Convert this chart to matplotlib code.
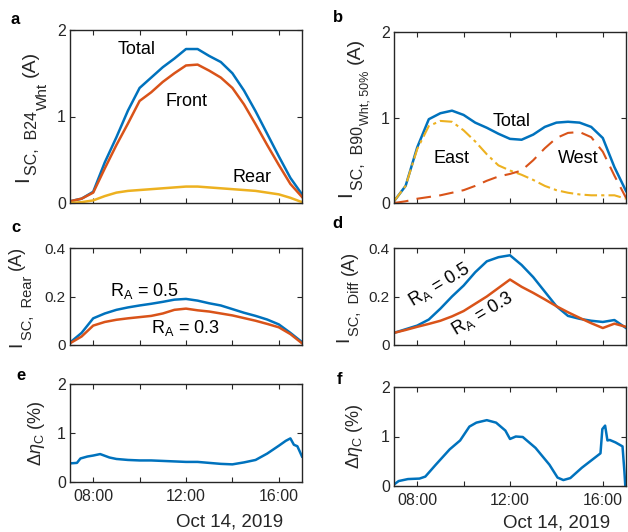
import matplotlib.pyplot as plt

plt.rcParams['font.family'] = ['Liberation Sans', 'DejaVu Sans']
plt.rcParams['mathtext.fontset'] = 'custom'
plt.rcParams['mathtext.rm'] = 'Liberation Sans'
plt.rcParams['mathtext.it'] = 'Liberation Sans:italic'
plt.rcParams['mathtext.bf'] = 'Liberation Sans:bold'

BLUE = '#0072BD'
ORANGE = '#D95319'
YELLOW = '#EDB120'
DARK = '#262626'

# time of day (hours), half-hour steps
hours = [7.0, 7.5, 8.0, 8.5, 9.0, 9.5, 10.0, 10.5, 11.0, 11.5, 12.0,
         12.5, 13.0, 13.5, 14.0, 14.5, 15.0, 15.5, 16.0, 16.5, 17.0]

# a: B24 bifacial module (A)
a_total = [0.02, 0.05, 0.13, 0.47, 0.76, 1.07, 1.33, 1.45, 1.57, 1.67, 1.78,
           1.78, 1.70, 1.63, 1.50, 1.30, 1.06, 0.80, 0.54, 0.29, 0.10]
a_front = [0.02, 0.05, 0.12, 0.40, 0.67, 0.92, 1.18, 1.28, 1.40, 1.50, 1.59,
           1.60, 1.53, 1.45, 1.33, 1.14, 0.91, 0.67, 0.44, 0.22, 0.07]
a_rear = [0.00, 0.01, 0.03, 0.08, 0.12, 0.14, 0.15, 0.16, 0.17, 0.18, 0.19,
          0.19, 0.18, 0.17, 0.16, 0.15, 0.14, 0.12, 0.10, 0.06, 0.01]

# b: B90 vertical module (A)
b_total = [0.02, 0.20, 0.65, 0.98, 1.05, 1.08, 1.03, 0.94, 0.88, 0.81, 0.75,
           0.74, 0.80, 0.89, 0.94, 0.95, 0.94, 0.89, 0.76, 0.42, 0.14]
b_east = [0.02, 0.20, 0.63, 0.90, 0.96, 0.95, 0.85, 0.72, 0.57, 0.44, 0.38,
          0.33, 0.27, 0.20, 0.15, 0.12, 0.10, 0.09, 0.09, 0.09, 0.05]
b_west = [0.00, 0.02, 0.05, 0.07, 0.09, 0.12, 0.15, 0.20, 0.26, 0.31, 0.34,
          0.38, 0.50, 0.64, 0.76, 0.82, 0.83, 0.77, 0.60, 0.32, 0.06]

# c: rear current for two albedos (A)
c_ra05 = [0.010, 0.050, 0.110, 0.130, 0.145, 0.155, 0.163, 0.170, 0.178, 0.187, 0.190,
          0.183, 0.172, 0.163, 0.148, 0.133, 0.120, 0.105, 0.085, 0.050, 0.012]
c_ra03 = [0.007, 0.035, 0.080, 0.095, 0.104, 0.110, 0.115, 0.120, 0.130, 0.145, 0.150,
          0.143, 0.138, 0.130, 0.122, 0.111, 0.100, 0.087, 0.073, 0.045, 0.007]

# d: difference current (A)
d_ra05 = [0.050, 0.065, 0.080, 0.105, 0.150, 0.200, 0.245, 0.300, 0.345, 0.362, 0.370,
          0.330, 0.280, 0.220, 0.160, 0.120, 0.108, 0.100, 0.095, 0.103, 0.070]
d_ra03 = [0.050, 0.062, 0.075, 0.087, 0.100, 0.118, 0.140, 0.170, 0.200, 0.235, 0.270,
          0.240, 0.215, 0.188, 0.160, 0.135, 0.112, 0.090, 0.070, 0.088, 0.075]

# e, f: efficiency gain (%)
e_hours = [7.0, 7.3, 7.45, 7.75, 8.0, 8.3, 8.7, 9.0, 9.5, 10.0, 10.5, 11.0, 11.5,
           12.0, 12.5, 13.0, 13.5, 14.0, 14.5, 15.0, 15.5, 16.0, 16.3, 16.5,
           16.65, 16.8, 17.0]
e_gain = [0.38, 0.39, 0.48, 0.52, 0.54, 0.57, 0.50, 0.47, 0.45, 0.44, 0.44, 0.43, 0.42,
          0.41, 0.41, 0.39, 0.37, 0.36, 0.40, 0.45, 0.58, 0.74, 0.84, 0.89,
          0.76, 0.73, 0.52]
f_hours = [7.0, 7.2, 7.6, 8.1, 8.35, 8.8, 9.4, 9.85, 10.25, 10.55, 11.0, 11.4, 11.8,
           12.0, 12.25, 12.55, 13.1, 13.7, 14.05, 14.3, 14.6, 15.1, 15.9, 15.98,
           16.1, 16.2, 16.3, 16.55, 16.85, 16.93, 16.97]
f_gain = [0.03, 0.10, 0.14, 0.15, 0.19, 0.43, 0.74, 0.92, 1.20, 1.28, 1.33, 1.28, 1.12,
          0.95, 1.00, 0.99, 0.77, 0.43, 0.17, 0.12, 0.16, 0.37, 0.66, 1.15,
          1.22, 0.92, 0.93, 0.88, 0.80, 0.30, 0.00]

tick_hours = [8, 10, 12, 14, 16]
tick_labels = ['08:00', '', '12:00', '', '16:00']
date_label = 'Oct 14, 2019'

FW, FH = 628, 532
fig = plt.figure(figsize=(FW / 100, FH / 100), dpi=100)
renderer = fig.canvas.get_renderer()


def make_ax(rect, ylim, yticks, yticklabels, tsize, show_x=False):
    ax = fig.add_axes(rect)
    ax.set_xlim(7.0, 17.0)
    ax.set_ylim(*ylim)
    ax.set_yticks(yticks)
    ax.set_yticklabels(yticklabels)
    ax.set_xticks(tick_hours)
    if show_x:
        ax.set_xticklabels(tick_labels)
    else:
        ax.set_xticklabels([])
    ax.tick_params(direction='in', top=True, right=True, length=3.5, width=0.8,
                   labelsize=tsize, colors=DARK, pad=3)
    ax.tick_params(axis='x', pad=5)
    for s in ax.spines.values():
        s.set_linewidth(1.0)
        s.set_color(DARK)
    return ax


def piece_label(ax, x_px, pieces):
    # vertical label made of pieces (text, size, baseline shift px, gap px),
    # read bottom to top and centred on the axes
    items = []
    for s, size, shift, gap in pieces:
        t = fig.text(0, 0, s, fontsize=size, rotation=90, rotation_mode='anchor',
                     ha='left', va='baseline', color=DARK)
        items.append((t, shift, gap, t.get_window_extent(renderer).height))
    box = ax.get_position()
    total = sum(h + g for _, _, g, h in items)
    y = (box.y0 + box.y1) / 2 * FH - total / 2
    for t, shift, gap, h in items:
        y += gap
        t.set_position(((x_px + shift) / FW, y / FH))
        y += h


W = 232 / FW
# panel a
ax = make_ax([70/FW, 1-203/FH, W, 173/FH], (0, 2), [0, 1, 2], ['0', '1', '2'], 11.5)
piece_label(ax, 28, [('I', 15, 0, 0), ('SC,  B24', 11.5, 9, 1),
                     ('Wht', 11, 19, 1), ('(A)', 14, 7, 6)])
ax.plot(hours, a_total, color=BLUE, lw=1.8)
ax.plot(hours, a_front, color=ORANGE, lw=1.8)
ax.plot(hours, a_rear, color=YELLOW, lw=1.8)
ax.text(9.88, 1.77, 'Total', fontsize=13, ha='center', va='center')
ax.text(12.04, 1.17, 'Front', fontsize=13, ha='center', va='center')
ax.text(14.84, 0.30, 'Rear', fontsize=13, ha='center', va='center')

# panel b
ax = make_ax([394/FW, 1-203/FH, W, 171/FH], (0, 2), [0, 1, 2], ['0', '1', '2'], 11.5)
piece_label(ax, 351, [('I', 15, 0, 0), ('SC,  B90', 11.5, 12, 1),
                      ('Wht, 50%', 9, 17, 1), ('(A)', 14, 9, 6)])
ax.plot(hours, b_total, color=BLUE, lw=1.8)
ax.plot(hours, b_east, color=YELLOW, lw=1.5, dashes=(6, 2, 1.5, 2))
ax.plot(hours, b_west, color=ORANGE, lw=1.5, dashes=(7, 4))
ax.text(12.05, 0.95, 'Total', fontsize=13, ha='center', va='center')
ax.text(9.47, 0.52, 'East', fontsize=13, ha='center', va='center')
ax.text(14.92, 0.52, 'West', fontsize=13, ha='center', va='center')

# panel c
ax = make_ax([70/FW, 1-345/FH, W, 97/FH], (0, 0.4), [0, 0.2, 0.4], ['0', '0.2', '0.4'], 11)
piece_label(ax, 21, [('I', 14, 0, 0), ('SC,  Rear', 10.5, 11, 1), ('(A)', 13, 0, 6)])
ax.plot(hours, c_ra05, color=BLUE, lw=1.8)
ax.plot(hours, c_ra03, color=ORANGE, lw=1.8)
ax.text(10.19, 0.222, r'$\mathregular{R_A}$ = 0.5', fontsize=13, ha='center', va='center')
ax.text(11.98, 0.069, r'$\mathregular{R_A}$ = 0.3', fontsize=13, ha='center', va='center')

# panel d
ax = make_ax([394/FW, 1-345/FH, W, 97/FH], (0, 0.4), [0, 0.2, 0.4], ['0', '0.2', '0.4'], 11)
piece_label(ax, 348, [('I', 14, 0, 0), ('SC,  Diff', 10.5, 11, 1), ('(A)', 13, 6, 6)])
ax.plot(hours, d_ra05, color=BLUE, lw=1.8)
ax.plot(hours, d_ra03, color=ORANGE, lw=1.8)
ax.text(8.97, 0.25, r'$\mathregular{R_A}$ = 0.5', fontsize=13, ha='center', va='center',
        rotation=31)
ax.text(10.83, 0.13, r'$\mathregular{R_A}$ = 0.3', fontsize=13, ha='center', va='center',
        rotation=31)

# panel e
ax = make_ax([70/FW, 1-482/FH, W, 98/FH], (0, 2), [0, 1, 2], ['0', '1', '2'], 11.5, show_x=True)
ax.set_ylabel(r'$\Delta\eta_\mathregular{C}$ (%)', fontsize=13, color=DARK)
ax.yaxis.set_label_coords(-0.10, 0.5)
ax.plot(e_hours, e_gain, color=BLUE, lw=1.8)

# panel f
ax = make_ax([394/FW, 1-486/FH, W, 99/FH], (0, 2), [0, 1, 2], ['0', '1', '2'], 11.5, show_x=True)
ax.set_ylabel(r'$\Delta\eta_\mathregular{C}$ (%)', fontsize=13, color=DARK)
ax.yaxis.set_label_coords(-0.125, 0.5)
ax.plot(f_hours, f_gain, color=BLUE, lw=1.8)

fig.text(230/FW, 1-522/FH, date_label, fontsize=13.5, ha='center', va='center', color=DARK)
fig.text(557/FW, 1-523/FH, date_label, fontsize=13.5, ha='center', va='center', color=DARK)

for lab, x, y in [('a', 15, 20), ('b', 338, 18), ('c', 16, 227),
                  ('d', 337, 224), ('e', 21, 376), ('f', 339, 380)]:
    fig.text(x/FW, 1-y/FH, lab, fontsize=12, fontweight='bold', ha='center', va='center')

fig.savefig('out.png', dpi=100)
